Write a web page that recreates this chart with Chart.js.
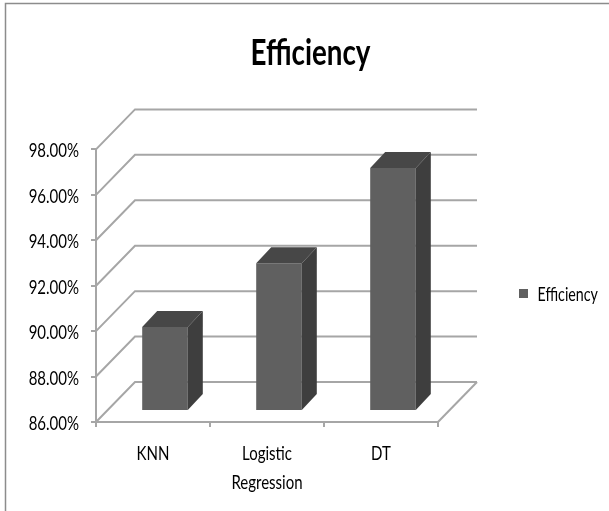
<!DOCTYPE html>
<html>
<head>
<meta charset="utf-8">
<title>Efficiency</title>
<script src="https://cdn.jsdelivr.net/npm/chart.js@4"></script>
<style>
  html, body { margin: 0; padding: 0; background: #fff; }
  #wrap { position: relative; width: 609px; height: 511px; }
</style>
</head>
<body>
<div id="wrap"><canvas id="chartEff" width="609" height="511"></canvas></div>
<script>
// ---- data ----
const CATEGORIES = [['KNN'], ['Logistic', 'Regression'], ['DT']];
const SERIES_NAME = 'Efficiency';
const VALUES = [89.7, 92.5, 96.7];
const Y_MIN = 86, Y_MAX = 98, Y_STEP = 2;

const FONT = 'Lato, "Liberation Sans", sans-serif';
const TEXT_SQUEEZE = 0.75; // the original text looks squeezed sideways
const LINE = '#a6a6a6';
const FRONT = '#606060', TOP = '#474747', SIDE = '#3e3e3e';

// fake 3D: depth of the box and where the bars stand in it
const WALL_DX = 39, WALL_DY = 40;
const BAR_DX = 12, BAR_DY = 11;
const DEPTH_X = 15, DEPTH_Y = 16;

function poly(ctx, pts, color) {
  ctx.fillStyle = color;
  ctx.beginPath();
  pts.forEach((p, i) => i ? ctx.lineTo(p[0], p[1]) : ctx.moveTo(p[0], p[1]));
  ctx.closePath();
  ctx.fill();
}

const box3d = {
  id: 'box3d',
  beforeInit(chart) {
    // narrow every label around its own anchor, no condensed font is installed
    const ctx = chart.ctx, fillText = ctx.fillText;
    ctx.fillText = function (text, x, y) {
      this.save();
      this.translate(x, 1.5);
      this.scale(TEXT_SQUEEZE, 1);
      fillText.call(this, text, 0, y);
      this.restore();
    };
  },
  beforeLayout(chart) {
    // legend keeps a fixed column on the right
    const lg = chart.legend;
    if (lg && !lg._fixed) {
      const fit = lg.fit;
      lg.fit = function () { fit.call(this); this.width = 171; };
      lg._fixed = true;
    }
  },
  afterLayout(chart) {
    chart.legend.left = 509;
    chart.legend.top += 38;
    chart.legend.bottom += 38;
    chart.titleBlock.left += 6;
    chart.titleBlock.right += 6;
  },
  beforeDraw(chart) {
    const ctx = chart.ctx;
    // outer frame, top and left only reach the picture
    ctx.save();
    ctx.strokeStyle = '#8c8c8c';
    ctx.lineWidth = 1.5;
    ctx.beginPath();
    ctx.moveTo(5.5, 511);
    ctx.lineTo(5.5, 3.5);
    ctx.lineTo(609, 3.5);
    ctx.stroke();
    ctx.restore();
  },
  beforeDatasetsDraw(chart) {
    const ctx = chart.ctx, y = chart.scales.y, a = chart.chartArea;
    ctx.save();
    ctx.strokeStyle = LINE;
    ctx.lineWidth = 2;
    y.ticks.forEach(t => {
      const py = y.getPixelForValue(t.value);
      ctx.beginPath();
      ctx.moveTo(a.left, py);
      ctx.lineTo(a.left + WALL_DX, py - WALL_DY);
      ctx.lineTo(a.right + WALL_DX, py - WALL_DY);
      ctx.stroke();
    });
    // floor edge
    ctx.beginPath();
    ctx.moveTo(a.right, a.bottom);
    ctx.lineTo(a.right + WALL_DX, a.bottom - WALL_DY);
    ctx.stroke();
    ctx.restore();
    // bars stand inside the box, not on the front plane
    ctx.save();
    ctx.translate(BAR_DX, -BAR_DY);
  },
  afterDatasetsDraw(chart) {
    const ctx = chart.ctx;
    chart.getDatasetMeta(0).data.forEach(el => {
      const l = el.x - el.width / 2, r = el.x + el.width / 2;
      poly(ctx, [[l, el.y], [l + DEPTH_X, el.y - DEPTH_Y], [r + DEPTH_X, el.y - DEPTH_Y], [r, el.y]], TOP);
      poly(ctx, [[r, el.y], [r + DEPTH_X, el.y - DEPTH_Y], [r + DEPTH_X, el.base - DEPTH_Y], [r, el.base]], SIDE);
    });
    ctx.restore();
  }
};

new Chart(document.getElementById('chartEff'), {
  type: 'bar',
  data: {
    labels: CATEGORIES,
    datasets: [{
      label: SERIES_NAME,
      data: VALUES,
      base: Y_MIN,
      backgroundColor: FRONT,
      barPercentage: 0.4,
      categoryPercentage: 1,
      clip: false
    }]
  },
  options: {
    responsive: false,
    animation: false,
    layout: { padding: 0 },
    plugins: {
      tooltip: { enabled: false },
      title: {
        display: true,
        text: 'Efficiency',
        color: '#000',
        font: { family: FONT, size: 37, weight: 'bold' },
        padding: { top: 29, bottom: 76 }
      },
      legend: {
        position: 'right',
        align: 'center',
        labels: {
          color: '#000',
          font: { family: FONT, size: 19 },
          boxWidth: 9,
          boxHeight: 9
        }
      }
    },
    scales: {
      x: {
        afterFit: s => { s.height = 89; },
        border: { color: LINE, width: 2 },
        grid: { drawOnChartArea: false, color: LINE, lineWidth: 2, tickLength: 5 },
        ticks: {
          color: '#000',
          padding: 11,
          maxRotation: 0,
          font: { family: FONT, size: 20, lineHeight: 1.45 }
        }
      },
      y: {
        min: Y_MIN,
        max: Y_MAX,
        afterFit: s => { s.width = 96; },
        border: { color: LINE, width: 2 },
        grid: { drawOnChartArea: false, color: LINE, lineWidth: 2, tickLength: 5 },
        ticks: {
          stepSize: Y_STEP,
          color: '#000',
          padding: 12,
          font: { family: FONT, size: 20 },
          callback: v => v.toFixed(2) + '%'
        }
      }
    }
  },
  plugins: [box3d]
});
</script>
</body>
</html>
